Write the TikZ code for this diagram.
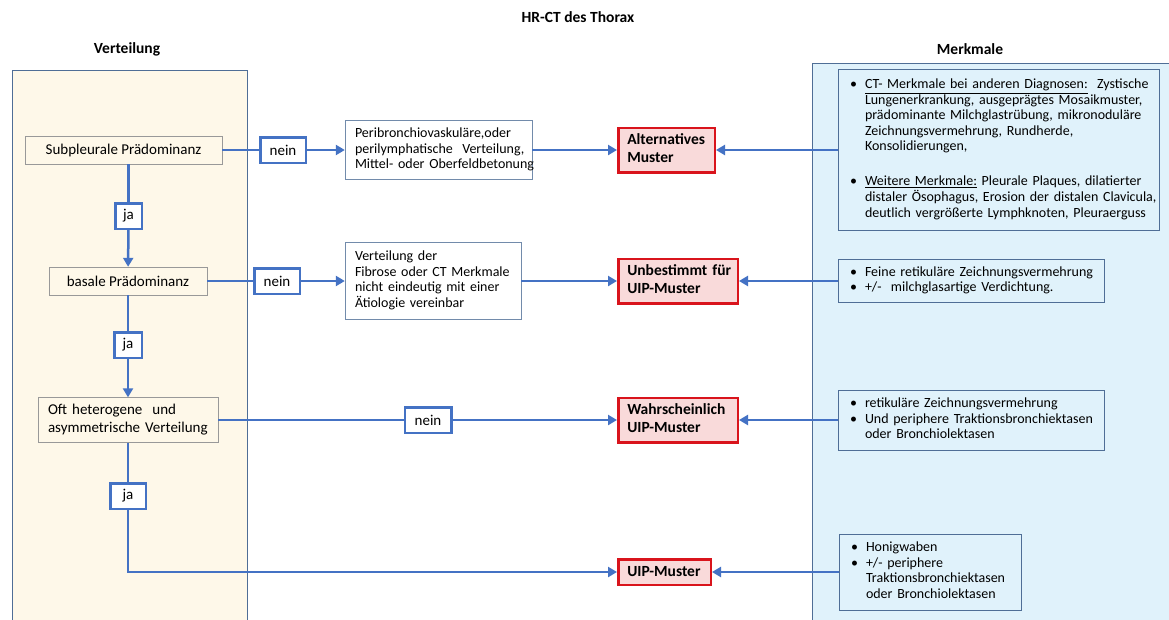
\documentclass[tikz,border=0pt]{standalone}
\usepackage{fontspec}
\setmainfont{Carlito}
\usetikzlibrary{arrows.meta,positioning}
\definecolor{flowblue}{HTML}{4472C4}
\definecolor{panelcream}{HTML}{FEF8E9}
\definecolor{panelblue}{HTML}{E0F2FB}
\definecolor{frame}{HTML}{4F6E96}
\definecolor{alarm}{HTML}{D9141C}
\definecolor{alarmfill}{HTML}{F9DADA}
\newcommand{\bl}{\makebox[15pt][l]{\textbullet}}
\newcommand{\ind}{\hspace*{15pt}}
\newcommand{\lines}[1]{\begin{tabular}{@{}l@{}}#1\end{tabular}}

\begin{document}
\begin{tikzpicture}[x=1pt, y=-1pt,
    font=\fontsize{14}{15.5}\selectfont,
    head/.style={font=\fontsize{15.5}{17.5}\selectfont\bfseries},
    distbox/.style={rectangle, draw=black!40, fill=panelcream, minimum height=28pt, inner sep=0pt, font=\fontsize{15}{17.6}\selectfont},
    tagbox/.style={rectangle, draw=flowblue, line width=2.5pt, fill=white, minimum height=25.5pt, inner sep=0pt, font=\fontsize{15}{17.6}\selectfont},
    midbox/.style={rectangle, draw=frame!80, fill=white, align=left, inner xsep=10pt, inner ysep=0pt, font=\fontsize{14}{15.7}\selectfont},
    result/.style={rectangle, draw=alarm, line width=2.5pt, fill=alarmfill, align=left, inner xsep=9pt, inner ysep=0pt, font=\fontsize{15.5}{17.6}\selectfont\bfseries},
    feature/.style={rectangle, draw=frame, fill=panelblue, align=left, inner xsep=12pt, inner ysep=0pt, font=\fontsize{14}{15.4}\selectfont},
    link/.style={flowblue, line width=2.5pt},
    flow/.style={link, -{Triangle[length=9pt,width=10pt]}}
  ]
  \clip (0,0) rectangle (1169,619);
  \fill[white] (0,0) rectangle (1169,619);
  \draw[frame, fill=panelcream] (12,70) rectangle (247,630);
  \draw[frame, fill=panelblue] (812,63) rectangle (1180,630);

  \node (title) [head] at (578,17) {HR-CT des Thorax};
  \node (hdist) [head] at (127,49) {Verteilung};
  \node (hfeat) [head] at (970,49) {Merkmale};

  \node (subpl) [distbox, minimum width=197pt] at (123.5,150) {Subpleurale Prädominanz};
  \node (basal) [distbox, minimum width=158pt] at (128,281) {basale Prädominanz};
  \node (hetero) [distbox, minimum height=45pt, text width=160pt, inner xsep=10pt, align=left] at (128,420) {\lines{Oft heterogene\ \ und\\asymmetrische Verteilung}};

  \node (ja1) [tagbox, minimum width=26.5pt] at (128.5,216) {ja};
  \node (ja2) [tagbox, minimum width=27.5pt] at (128,345) {ja};
  \node (ja3) [tagbox, minimum width=35.5pt] at (128,496) {ja};
  \node (nein1) [tagbox, minimum width=45.5pt] at (283,150) {nein};
  \node (nein2) [tagbox, minimum width=45.5pt] at (277,281) {nein};
  \node (nein3) [tagbox, minimum width=46.5pt] at (428,420) {nein};

  \node (peri) [midbox, text width=167pt, minimum height=59pt] at (438.5,150) {\lines{Peribronchiovaskuläre,oder\\perilymphatische\ \ Verteilung,\\Mittel- oder Oberfeldbetonung}};
  \node (vert) [midbox, text width=156pt, minimum height=77pt] at (433,281) {\lines{Verteilung der\\Fibrose oder CT Merkmale\\nicht eindeutig mit einer\\Ätiologie vereinbar}};

  \node (alt) [result, text width=78.5pt, minimum height=44.5pt] at (666.5,150) {\lines{Alternatives\\Muster}};
  \node (unbest) [result, text width=101.5pt, minimum height=44.5pt] at (678,281) {\lines{Unbestimmt für\\UIP-Muster}};
  \node (wahr) [result, text width=101.5pt, minimum height=44.5pt] at (678,420) {\lines{Wahrscheinlich\\UIP-Muster}};
  \node (uip) [result, text width=74.5pt, minimum height=25.5pt] at (664.5,572) {UIP-Muster};

  \node (feat1) [feature, text width=297pt, minimum height=161pt] at (998.5,150) {\lines{\bl\underline{CT- Merkmale bei anderen Diagnosen:}\ \ Zystische\\\ind Lungenerkrankung, ausgeprägtes Mosaikmuster,\\\ind prädominante Milchglastrübung, mikronoduläre\\\ind Zeichnungsvermehrung, Rundherde,\\\ind Konsolidierungen,\\[20pt]\bl\underline{Weitere Merkmale:} Pleurale Plaques, dilatierter\\\ind distaler Ösophagus, Erosion der distalen Clavicula,\\\ind deutlich vergrößerte Lymphknoten, Pleuraerguss}};
  \node (feat2) [feature, text width=242pt, minimum height=43pt] at (971,281) {\lines{\bl Feine retikuläre Zeichnungsvermehrung\\\bl +/-\ \ milchglasartige Verdichtung.}};
  \node (feat3) [feature, text width=242pt, minimum height=60pt] at (971,420) {\lines{\bl retikuläre Zeichnungsvermehrung\\\bl Und periphere Traktionsbronchiektasen\\\ind oder Bronchiolektasen}};
  \node (feat4) [feature, text width=158pt, minimum height=76pt] at (930,572) {\lines{\bl Honigwaben\\\bl +/- periphere\\\ind Traktionsbronchiektasen\\\ind oder Bronchiolektasen}};

  \draw[link] (subpl) -- (nein1);
  \draw[flow] (nein1) -- (peri);
  \draw[flow] (peri) -- (alt);
  \draw[link] (subpl.south -| ja1) -- (ja1);
  \draw[flow] (ja1) -- (basal);
  \draw[link] (basal) -- (nein2);
  \draw[flow] (nein2) -- (vert);
  \draw[flow] (vert) -- (unbest);
  \draw[link] (basal) -- (ja2);
  \draw[flow] (ja2) -- (hetero);
  \draw[link] (hetero) -- (nein3);
  \draw[flow] (nein3) -- (wahr);
  \draw[link] (hetero) -- (ja3);
  \draw[flow] (ja3) |- (uip);
  \draw[flow] (feat1) -- (alt);
  \draw[flow] (feat2) -- (unbest);
  \draw[flow] (feat3) -- (wahr);
  \draw[flow] (feat4) -- (uip);
\end{tikzpicture}
\end{document}
